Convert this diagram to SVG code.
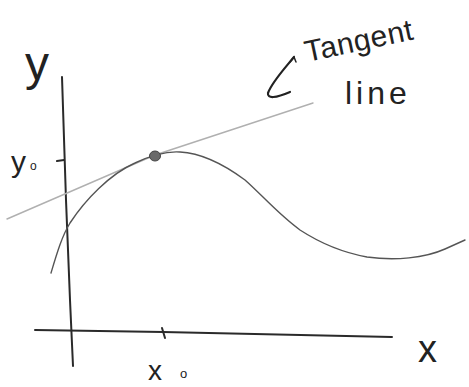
<svg xmlns="http://www.w3.org/2000/svg" width="469" height="387" viewBox="0 0 469 387">
<style>
.ax{stroke:#2a2a2a;stroke-width:2;fill:none;stroke-linecap:round}
.crv{stroke:#555;stroke-width:1.4;fill:none;stroke-linecap:round}
.tan{stroke:#b0b0b0;stroke-width:1.4;fill:none;stroke-linecap:round}
.hand{font-family:"Liberation Sans",Arial,sans-serif;fill:#222;font-weight:normal}
</style>
<rect width="469" height="387" fill="#fff"/>
<g id="axes">
<path class="ax" d="M62,77 L66,200 L70,300 L73,366"/>
<path class="ax" d="M35,330 L163,332 L392,337" stroke-width="1.6"/>
<path class="ax" d="M162,328 L165,338" stroke-width="1.5"/>
<path class="ax" d="M57,161 L64,160" stroke-width="1.5"/>
</g>
<g id="tangent-line">
<path class="tan" d="M7,219 L155,155 L313,103"/>
</g>
<g id="curve">
<path class="crv" d="M51,273 C57,253 62,236 70,223 C85,200 110,174 135,163 C152,155 166,151 180,152 C200,153 222,163 245,180 C262,195 278,214 300,230 C320,243 340,252 367,257 C395,261 425,258 445,249 L465,240"/>
</g>
<g id="point">
<ellipse cx="155" cy="156" rx="5.5" ry="5" fill="#6a6a6a" stroke="#444" stroke-width="1"/>
</g>
<g id="arrow">
<path d="M294,57 C285,68 272,82 268,93 C267,99 276,98 290,92" stroke="#222" stroke-width="2.2" fill="none" stroke-linecap="round"/>
<path d="M290,62 L294,57 L296,62" stroke="#222" stroke-width="1.5" fill="none" stroke-linecap="round"/>
</g>
<g id="labels">
<text class="hand" x="25" y="80" font-size="48">y</text>
<text class="hand" x="11" y="172" font-size="30">y</text>
<text class="hand" x="30" y="170" font-size="12">o</text>
<text class="hand" x="148" y="380" font-size="28">x</text>
<text class="hand" x="180" y="378" font-size="13">o</text>
<text class="hand" x="418" y="362" font-size="38">x</text>
<text class="hand" x="307" y="62" font-size="30" letter-spacing="0.5" transform="rotate(-12 307 62)">Tangent</text>
<text class="hand" x="345" y="104" font-size="32" letter-spacing="4">line</text>
</g>
</svg>
